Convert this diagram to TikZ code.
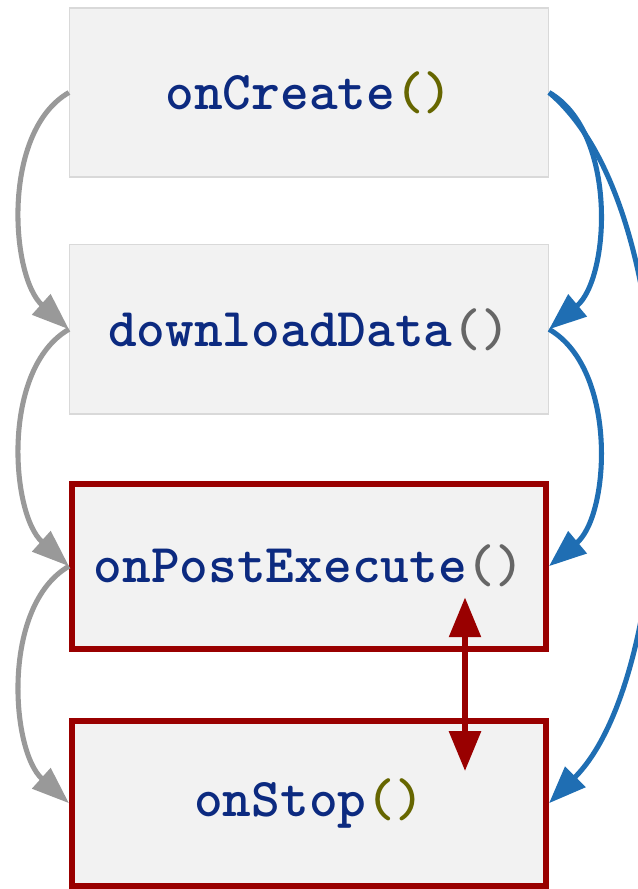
\documentclass[tikz,border=0pt]{standalone}
\usetikzlibrary{arrows.meta,positioning,calc}
\definecolor{callbg}{HTML}{F2F2F2}
\definecolor{callline}{HTML}{D9D9D9}
\definecolor{uired}{HTML}{990000}
\definecolor{fnblue}{HTML}{0C2A80}
\definecolor{parolive}{HTML}{666600}
\definecolor{pargray}{HTML}{666666}
\definecolor{flowgray}{HTML}{999999}
\definecolor{flowblue}{HTML}{1F6EB3}
% method name in blue, brackets in a second colour
\newcommand{\fn}[2]{\textcolor{fnblue}{#1}\textcolor{#2}{()}}
\tikzset{
  call/.style     = {draw=callline, line width=1.1pt, fill=callbg, inner sep=0pt,
                     minimum width=359pt, minimum height=127pt,
                     font=\fontsize{41}{45}\selectfont\ttfamily\bfseries},
  uicall/.style   = {call, draw=uired, line width=4.5pt,
                     minimum width=355.5pt, minimum height=123.75pt},
  grayflow/.style = {-{Triangle[length=28pt,width=20pt]}, line width=3.8pt, draw=flowgray},
  blueflow/.style = {-{Triangle[length=28pt,width=21pt]}, line width=3.8pt, draw=flowblue},
  sync/.style     = {{Triangle[length=30pt,width=23pt]}-{Triangle[length=30pt,width=23pt]},
                     line width=5pt, draw=uired},
}
\begin{document}
\begin{tikzpicture}[x=0.75pt, y=0.75pt, node distance=49.5pt]
  \useasboundingbox (0,0) rectangle (638,-889);
  \node[call] (create) at (309,-92.5) {\fn{onCreate}{parolive}};
  \node[call, below=of create] (download) {\fn{downloadData}{pargray}};
  \node[uicall, below=of download] (post) {\fn{onPostExecute}{pargray}};
  \node[uicall, below=of post] (stop) {\fn{onStop}{parolive}};
  % normal sequence on the left
  \draw[grayflow] (create.west) to[out=210, in=138, looseness=0.85] (download.west);
  \draw[grayflow] (download.west) to[out=210, in=138, looseness=0.85] (post.west);
  \draw[grayflow] (post.west) to[out=210, in=138, looseness=0.85] (stop.west);
  % other paths on the right
  \draw[blueflow] (create.east) to[out=-30, in=40, looseness=0.86] (download.east);
  \draw[blueflow] (download.east) to[out=-30, in=40, looseness=0.86] (post.east);
  \draw[blueflow] (create.east) to[out=-40, in=45, looseness=0.68] (stop.east);
  % race between the two red calls
  \coordinate (syncA) at ($(post.center)+(156,-31)$);
  \coordinate (syncB) at ($(stop.center)+(156,32)$);
  \draw[sync] (syncA) -- (syncB);
\end{tikzpicture}
\end{document}
